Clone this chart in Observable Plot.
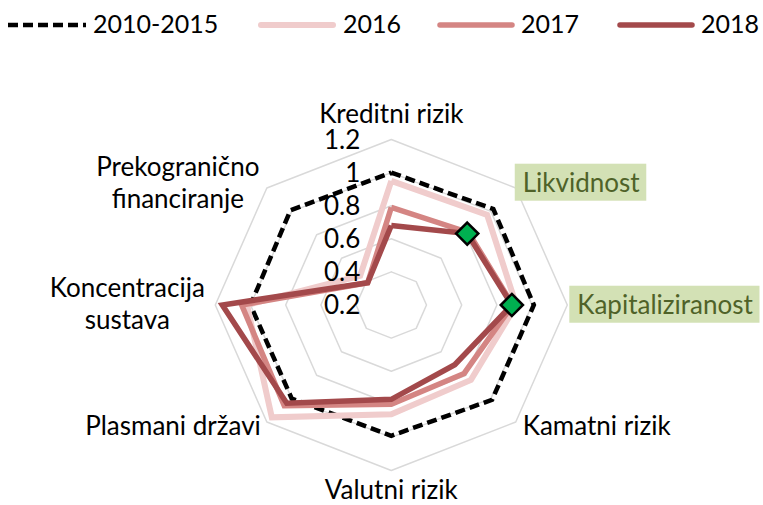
<!DOCTYPE html>
<html><head><meta charset="utf-8">
<script src="https://cdn.jsdelivr.net/npm/d3@7"></script>
<script src="https://cdn.jsdelivr.net/npm/@observablehq/plot@0.6"></script>
<style>
html,body{margin:0;padding:0;background:#fff;}
body{width:763px;height:505px;overflow:hidden;font-family:Lato,"Open Sans",sans-serif;}
#legend{height:50px;width:763px;position:relative;}
#legend svg{position:absolute;top:19px;display:block;}
#legend span{position:absolute;top:11px;font-size:25px;line-height:1;color:#000;white-space:nowrap;}
#chart svg{display:block;}
</style></head><body>
<div id="legend"></div>
<div id="chart"></div>
<script>
// ---- data ----
const categories = ["Kreditni rizik","Likvidnost","Kapitaliziranost","Kamatni rizik","Valutni rizik","Plasmani državi","Koncentracija sustava","Prekogranično financiranje"];
const categoryLabels = ["Kreditni rizik","Likvidnost","Kapitaliziranost","Kamatni rizik","Valutni rizik","Plasmani državi","Koncentracija\nsustava","Prekogranično\nfinanciranje"];
const seriesNames = ["2010-2015","2016","2017","2018"];
const v2010_2015 = [1.00, 1.02, 1.01, 1.01, 0.99, 1.00, 1.00, 1.01];
const v2016      = [0.95, 0.97, 0.91, 0.84, 0.86, 1.16, 1.02, 0.45];
const v2017      = [0.79, 0.82, 0.89, 0.785, 0.80, 1.06, 1.05, 0.39];
const v2018      = [0.68, 0.81, 0.885, 0.71, 0.77, 1.04, 1.16, 0.39];
const tickValues = [0.2, 0.4, 0.6, 0.8, 1, 1.2];
const highlighted = ["Likvidnost","Kapitaliziranost"];
const markerSeries = "2018";

// ---- styles ----
const seriesStyle = {
  "2010-2015": {stroke:"#000000", width:4.5, dash:"10,5"},
  "2016": {stroke:"#f0cccc", width:6, dash:null},
  "2017": {stroke:"#d48583", width:5.5, dash:null},
  "2018": {stroke:"#a3494b", width:5.5, dash:null}
};
const seriesValues = {"2010-2015": v2010_2015, "2016": v2016, "2017": v2017, "2018": v2018};

// legend layout: sample start x and text start x (pixels)
const legendLayout = [
  {sample: 8,   text: 93},
  {sample: 258, text: 343},
  {sample: 437, text: 521},
  {sample: 617, text: 701}
];

// label layout (pixel offsets from each outer vertex)
const labelLayout = [
  {anchor:"middle", dx:0,   dy:-27},
  {anchor:"start",  dx:7,   dy:-6},
  {anchor:"start",  dx:10,  dy:-1},
  {anchor:"start",  dx:7,   dy:3},
  {anchor:"middle", dx:0,   dy:18},
  {anchor:"end",    dx:-6,  dy:3},
  {anchor:"middle", dx:-88, dy:-2},
  {anchor:"middle", dx:-89, dy:-6}
];

const rMin = tickValues[0], rMax = tickValues[tickValues.length-1];
const n = categories.length;
const ang = i => i * 2 * Math.PI / n;
const unit = v => (v - rMin) / (rMax - rMin);
const pt = (v, i) => ({x: unit(v) * Math.sin(ang(i)), y: unit(v) * Math.cos(ang(i))});

function ring(values, name) {
  return d3.range(n + 1).map(k => ({...pt(values[k % n], k % n), s: name}));
}

const gridRows = tickValues.filter(t => t > rMin).flatMap(t => ring(new Array(n).fill(t), String(t)));
const markerRows = highlighted.map(c => {
  const i = categories.indexOf(c);
  return pt(seriesValues[markerSeries][i], i);
});

const marks = [
  Plot.line(gridRows, {x:"x", y:"y", z:"s", stroke:"#d9d9d9", strokeWidth:1.5})
];
for (const s of seriesNames) {
  const st = seriesStyle[s];
  marks.push(Plot.line(ring(seriesValues[s], s), {
    x:"x", y:"y", stroke: st.stroke, strokeWidth: st.width,
    strokeDasharray: st.dash || undefined, strokeLinejoin:"miter", strokeLinecap:"butt", strokeMiterlimit: 10
  }));
}
marks.push(Plot.dot(markerRows, {x:"x", y:"y", symbol:"diamond2", r:10, fill:"#00b050", stroke:"#000", strokeWidth:2.5}));
marks.push(Plot.text(tickValues, {x: () => 0, y: d => unit(d), text: d => String(d), textAnchor:"end", dx:-31, dy:1, fontSize:26, fill:"#000", lineAnchor:"middle"}));
categories.forEach((c, i) => {
  const L = labelLayout[i];
  const isHi = highlighted.includes(c);
  marks.push(Plot.text([pt(rMax, i)], {
    x:"x", y:"y", text: () => categoryLabels[i], textAnchor: L.anchor, dx: L.dx, dy: L.dy,
    fontSize: 26, lineAnchor:"middle", lineHeight: 1.23,
    fill: isHi ? "#4f6228" : "#000", className: isHi ? "hilabel" : undefined
  }));
});

const chart = Plot.plot({
  width: 763, height: 455,
  margin: 0,
  x: {domain: [-1, 1], range: [214.8, 566.8], axis: null},
  y: {domain: [-1, 1], range: [420, 89], axis: null},
  style: {fontFamily: "Lato, 'Open Sans', sans-serif", background: "#fff", overflow: "visible"},
  marks
});
document.getElementById("chart").appendChild(chart);

// boxes behind highlighted labels
chart.querySelectorAll(".hilabel text").forEach(t => {
  const bb = t.getBBox();
  const cy = bb.y + bb.height / 2;
  const rect = document.createElementNS("http://www.w3.org/2000/svg", "rect");
  rect.setAttribute("x", bb.x - 8);
  rect.setAttribute("y", cy - 18.5);
  rect.setAttribute("width", bb.width + 14);
  rect.setAttribute("height", 37);
  rect.setAttribute("fill", "#d3e1b5");
  const tr = t.getAttribute("transform");
  if (tr) rect.setAttribute("transform", tr);
  t.parentNode.insertBefore(rect, t);
});

// legend
const legend = document.getElementById("legend");
seriesNames.forEach((s, k) => {
  const st = seriesStyle[s];
  const lay = legendLayout[k];
  const svg = d3.create("svg").attr("width", 78).attr("height", 12).style("left", lay.sample + "px");
  svg.append("line").attr("x1", st.dash ? 0 : 3).attr("x2", st.dash ? 78 : 75).attr("y1", 6).attr("y2", 6)
    .attr("stroke", st.stroke).attr("stroke-width", st.width)
    .attr("stroke-linecap", st.dash ? "butt" : "round")
    .attr("stroke-dasharray", st.dash || null);
  legend.appendChild(svg.node());
  const span = document.createElement("span");
  span.textContent = s;
  span.style.left = lay.text + "px";
  legend.appendChild(span);
});
</script>
</body></html>
